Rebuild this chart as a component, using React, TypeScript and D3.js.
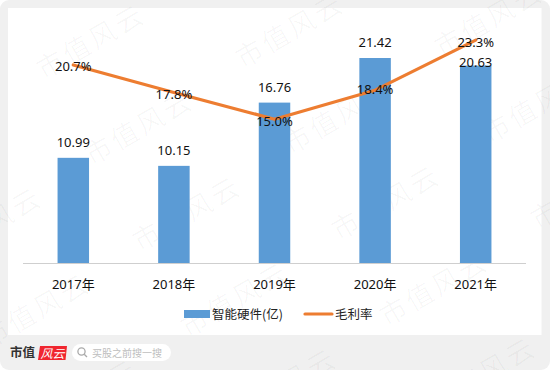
import React from 'react';
import * as d3 from 'd3';

const years = ['2017年', '2018年', '2019年', '2020年', '2021年'];
const hardwareValues = [10.99, 10.15, 16.76, 21.42, 20.63];
const hardwareLabels = ['10.99', '10.15', '16.76', '21.42', '20.63'];
const marginValues = [20.7, 17.8, 15.0, 18.05, 23.3];
const marginLabels = ['20.7%', '17.8%', '15.0%', '18.4%', '23.3%'];
const legendBar = '智能硬件(亿)';
const legendLine = '毛利率';
const watermark = '市值风云';
const slogan = '买股之前搜一搜';

const FONT = '"Noto Sans CJK SC", "Noto Sans", sans-serif';
const LABEL_FONT = '"Noto Sans", "Noto Sans CJK SC", sans-serif';

export default function App() {
  const baseY = 263;
  const x = d3.scaleBand<string>().domain(years).range([23, 526]).paddingInner(0.687).paddingOuter(0.3435);
  const y = d3.scaleLinear().domain([0, 26]).range([baseY, baseY - 26 * 9.57]);
  const yRate = d3.scaleLinear().domain([0, 25]).range([262, 24]);
  const cx = (d: string) => (x(d) as number) + x.bandwidth() / 2;
  const line = d3.line<number>().x((_, i) => cx(years[i])).y((d) => yRate(d));

  const marks: [number, number][] = [];
  for (let i = -3; i <= 5; i++) {
    for (let j = -2; j <= 6; j++) {
      const px = 90 + i * 199 + j * 48;
      const py = 40 - i * 11 + j * 86;
      if (px > -60 && px < 610 && py > -40 && py < 410) marks.push([px, py]);
    }
  }

  return (
    <svg width={550} height={370} style={{ position: 'absolute', left: 0, top: 0, display: 'block' }}>
      <rect x={0} y={0} width={550} height={370} fill="#ffffff" />
      <rect x={0} y={0} width={550} height={370} rx={9} fill="#f0f0f0" />
      <rect x={8} y={8} width={533.5} height={327} fill="#ffffff" />

      <g fontFamily={FONT} fontSize={27} fill="#000000" fillOpacity={0.03} textAnchor="middle" dominantBaseline="central">
        {marks.map(([px, py], i) => (
          <text key={i} transform={`translate(${px},${py}) rotate(-30)`} letterSpacing={3}>{watermark}</text>
        ))}
      </g>

      {years.map((d, i) => (
        <rect key={d} x={x(d)} y={y(hardwareValues[i])} width={x.bandwidth()} height={baseY - y(hardwareValues[i])} fill="#5b9bd5" />
      ))}
      <line x1={23} x2={526} y1={baseY + 0.5} y2={baseY + 0.5} stroke="#cfcfcf" strokeWidth={1} />

      <path d={line(marginValues) as string} fill="none" stroke="#ed7d31" strokeWidth={3.2} strokeLinecap="round" strokeLinejoin="round" />

      <g fontFamily={LABEL_FONT} fontSize={13} fill="#111111" textAnchor="middle" dominantBaseline="central">
        {years.map((d, i) => (
          <text key={d} x={cx(d)} y={y(hardwareValues[i]) - (i === 4 ? 3.5 : 16)}>{hardwareLabels[i]}</text>
        ))}
        {years.map((d, i) => (
          <text key={d} x={cx(d)} y={yRate(marginValues[i]) + (i === 3 ? -1 : 1.5)}>{marginLabels[i]}</text>
        ))}
        {years.map((d) => (
          <text key={d} x={cx(d)} y={283.5}>{d}</text>
        ))}
      </g>

      <rect x={184} y={310} width={26} height={8} fill="#5b9bd5" />
      <line x1={305} x2={332} y1={314} y2={314} stroke="#ed7d31" strokeWidth={3.2} strokeLinecap="round" />
      <g fontFamily={FONT} fontSize={12.5} fill="#222222" dominantBaseline="central">
        <text x={212} y={313.5}>{legendBar}</text>
        <text x={335} y={313.5}>{legendLine}</text>
      </g>

      <text x={10} y={351.5} fontFamily={FONT} fontSize={12.5} fontWeight={700} fill="#333333" dominantBaseline="central">市值</text>
      <path d="M40 346 L67 346 L65.5 360 L38 360 Z" fill="#f0262f" />
      <text x={52.5} y={352.5} fontFamily={FONT} fontSize={12} fontStyle="italic" fill="#ffffff" textAnchor="middle" dominantBaseline="central">风云</text>
      <rect x={72} y={344} width={99} height={17} rx={8.5} fill="#ffffff" />
      <circle cx={81.5} cy={351.5} r={3.6} fill="none" stroke="#aaaaaa" strokeWidth={1.3} />
      <line x1={84.2} y1={354.2} x2={87} y2={357} stroke="#aaaaaa" strokeWidth={1.3} />
      <text x={92} y={352.5} fontFamily={FONT} fontSize={10} fill="#bdbdbd" dominantBaseline="central">{slogan}</text>
    </svg>
  );
}
